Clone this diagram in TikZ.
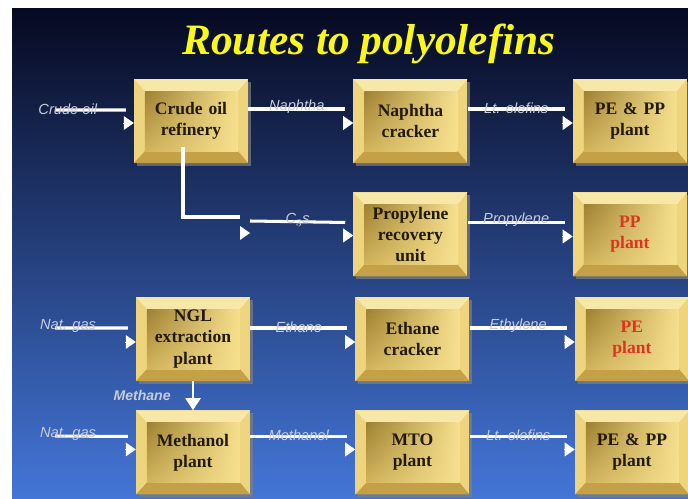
\documentclass[tikz,border=0pt]{standalone}
\usepackage{fontspec}
\setmainfont{Liberation Serif}
\setsansfont{Liberation Sans}
\usepackage{tikz}
\usetikzlibrary{positioning,arrows.meta,shadows,shadings}
\definecolor{NightBlue}{RGB}{6,9,32}
\definecolor{MidBlue}{RGB}{28,56,128}
\definecolor{SkyBlue}{RGB}{68,118,216}
\definecolor{BoxGold}{RGB}{238,212,124}
\definecolor{BevelLight}{RGB}{248,232,168}
\definecolor{BevelDark}{RGB}{196,160,70}
\definecolor{FaceDark}{RGB}{158,128,50}
\definecolor{FaceMid}{RGB}{210,180,92}
\definecolor{FaceLight}{RGB}{246,224,142}
\definecolor{InkBrown}{RGB}{34,26,8}
\definecolor{PlantRed}{RGB}{222,52,30}
\definecolor{TagGray}{RGB}{200,204,220}
\definecolor{TitleYellow}{RGB}{250,248,24}

\begin{document}
\begin{tikzpicture}[x=0.03cm, y=-0.03cm,
    unitbox/.style={rectangle, fill=BoxGold, inner sep=0pt,
                    minimum width=3.42cm, minimum height=2.52cm,
                    text width=3.2cm, align=center, text=InkBrown,
                    font=\fontsize{15}{18}\selectfont\bfseries,
                    drop shadow={shadow xshift=0.08cm, shadow yshift=-0.08cm, opacity=0.7},
                    path picture={
                      \fill[BevelLight] (path picture bounding box.north west) -- (path picture bounding box.north east)
                        -- ([shift={(-0.3cm,-0.36cm)}]path picture bounding box.north east)
                        -- ([shift={(0.33cm,-0.36cm)}]path picture bounding box.north west) -- cycle;
                      \fill[BevelDark] (path picture bounding box.south west) -- (path picture bounding box.south east)
                        -- ([shift={(-0.3cm,0.36cm)}]path picture bounding box.south east)
                        -- ([shift={(0.33cm,0.36cm)}]path picture bounding box.south west) -- cycle;
                      \shade[upper left=FaceDark, upper right=FaceLight, lower left=FaceMid, lower right=FaceLight]
                        ([shift={(0.33cm,-0.36cm)}]path picture bounding box.north west)
                        rectangle ([shift={(-0.3cm,0.36cm)}]path picture bounding box.south east);
                    }},
    redbox/.style={unitbox, text=PlantRed},
    flow/.style={draw=white, line width=2.6pt},
    tip/.style={white, line width=0pt, -{Triangle[length=0.3cm, width=0.42cm]}},
    lbl/.style={font=\sffamily\itshape\fontsize{12.5}{14}\selectfont, text=TagGray, inner sep=1pt}
]
    % frame and background
    \useasboundingbox (0,0) rectangle (688,499);
    \fill[white] (0,0) rectangle (688,499);
    \shade[top color=NightBlue, middle color=MidBlue, bottom color=SkyBlue] (12,8) rectangle (688,499);

    \node[font=\fontsize{37}{40}\selectfont\bfseries\itshape, text=TitleYellow] (title) at (369,44) {Routes to polyolefins};

    % crude oil route
    \node[unitbox] (crude) at (191,121) {Crude oil\\refinery};
    \node[unitbox, right=3.15cm of crude] (naphtha) {Naphtha\\cracker};
    \node[unitbox, right=3.15cm of naphtha] (pepp1) {PE \& PP\\plant};
    \node[unitbox, below=0.87cm of naphtha] (propyl) {Propylene\\recovery\\unit};
    \node[redbox, right=3.15cm of propyl] (ppplant) {PP\\plant};

    % natural gas routes
    \node[unitbox] (ngl) at (193,339) {NGL\\extraction\\plant};
    \node[unitbox, right=3.15cm of ngl] (ethane) {Ethane\\cracker};
    \node[redbox, right=3.15cm of ethane] (peplant) {PE\\plant};
    \node[unitbox, below=0.87cm of ngl] (methanol) {Methanol\\plant};
    \node[unitbox, right=3.15cm of methanol] (mto) {MTO\\plant};
    \node[unitbox, right=3.15cm of mto] (pepp2) {PE \& PP\\plant};

    \coordinate (crudein) at (55,110);
    \coordinate (gasin1) at (55,328);
    \coordinate (gasin2) at (55,436);
    \coordinate (c3) at (250,233);

    % row 1
    \draw[flow] (crudein) -- node[lbl, pos=0.18, above=-6pt] {Crude oil} ([xshift=-0.24cm, yshift=0.33cm]crude.west);
    \draw[tip] ([xshift=-0.3cm, yshift=-0.06cm]crude.west) -- ([yshift=-0.06cm]crude.west);
    \draw[flow] ([yshift=0.36cm]crude.east) -- node[lbl, above=-6pt] {Naphtha} ([xshift=-0.24cm, yshift=0.36cm]naphtha.west);
    \draw[tip] ([xshift=-0.3cm, yshift=-0.06cm]naphtha.west) -- ([yshift=-0.06cm]naphtha.west);
    \draw[flow] ([yshift=0.36cm]naphtha.east) -- node[lbl, above=-6pt] {Lt. olefins} ([xshift=-0.24cm, yshift=0.36cm]pepp1.west);
    \draw[tip] ([xshift=-0.3cm, yshift=-0.06cm]pepp1.west) -- ([yshift=-0.06cm]pepp1.west);

    % row 2
    \draw[flow] ([xshift=-0.24cm, yshift=0.5cm]crude.south) |- ([xshift=-0.3cm, yshift=0.48cm]c3);
    \draw[tip] ([xshift=-0.3cm]c3) -- (c3);
    \draw[flow] ([yshift=0.36cm]c3) -- node[lbl, above=-6pt] {C$_3$s} ([xshift=-0.24cm, yshift=0.36cm]propyl.west);
    \draw[tip] ([xshift=-0.3cm, yshift=-0.03cm]propyl.west) -- ([yshift=-0.03cm]propyl.west);
    \draw[flow] ([yshift=0.36cm]propyl.east) -- node[lbl, above=-6pt] {Propylene} ([xshift=-0.24cm, yshift=0.36cm]ppplant.west);
    \draw[tip] ([xshift=-0.3cm, yshift=-0.06cm]ppplant.west) -- ([yshift=-0.06cm]ppplant.west);

    % row 3
    \draw[flow] (gasin1) -- node[lbl, pos=0.18, above=-6pt] {Nat. gas} ([xshift=-0.24cm, yshift=0.33cm]ngl.west);
    \draw[tip] ([xshift=-0.3cm, yshift=-0.09cm]ngl.west) -- ([yshift=-0.09cm]ngl.west);
    \draw[flow] ([yshift=0.33cm]ngl.east) -- node[lbl, above=-6pt] {Ethane} ([xshift=-0.24cm, yshift=0.33cm]ethane.west);
    \draw[tip] ([xshift=-0.3cm, yshift=-0.09cm]ethane.west) -- ([yshift=-0.09cm]ethane.west);
    \draw[flow] ([yshift=0.33cm]ethane.east) -- node[lbl, above=-6pt] {Ethylene} ([xshift=-0.24cm, yshift=0.33cm]peplant.west);
    \draw[tip] ([xshift=-0.3cm, yshift=-0.09cm]peplant.west) -- ([yshift=-0.09cm]peplant.west);

    % methane link
    \draw[white, line width=2pt, -{Triangle[length=0.36cm, width=0.45cm]}] (ngl.south) -- node[lbl, left=0.6cm, font=\sffamily\itshape\bfseries\fontsize{12}{14}\selectfont] {Methane} (methanol.north);

    % row 4
    \draw[flow] (gasin2) -- node[lbl, pos=0.18, above=-6pt] {Nat. gas} ([xshift=-0.24cm, yshift=0.48cm]methanol.west);
    \draw[tip] ([xshift=-0.3cm, yshift=0.09cm]methanol.west) -- ([yshift=0.09cm]methanol.west);
    \draw[flow] ([yshift=0.48cm]methanol.east) -- node[lbl, above=-6pt] {Methanol} ([xshift=-0.24cm, yshift=0.48cm]mto.west);
    \draw[tip] ([xshift=-0.3cm, yshift=0.09cm]mto.west) -- ([yshift=0.09cm]mto.west);
    \draw[flow] ([yshift=0.48cm]mto.east) -- node[lbl, above=-6pt] {Lt. olefins} ([xshift=-0.24cm, yshift=0.48cm]pepp2.west);
    \draw[tip] ([xshift=-0.3cm, yshift=0.09cm]pepp2.west) -- ([yshift=0.09cm]pepp2.west);
\end{tikzpicture}
\end{document}
